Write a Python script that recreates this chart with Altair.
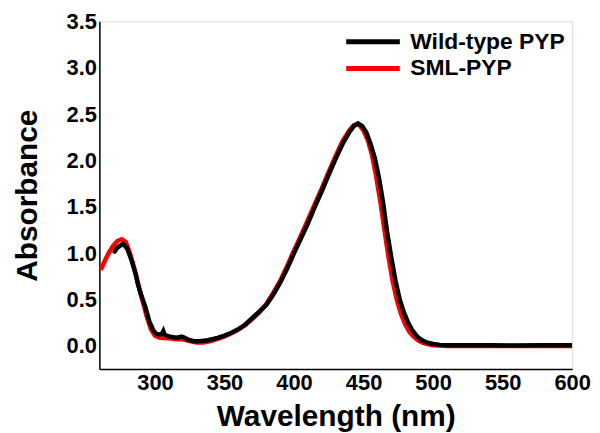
import altair as alt
import pandas as pd

# Wild-type PYP (black)
wt_wl = [270, 271, 273, 275, 277, 280, 283, 286, 288, 290, 293, 296, 299, 301, 303, 305,
         306, 307, 310, 314, 317, 319, 321, 324, 328, 332, 338, 345, 350, 355, 360, 365,
         370, 375, 380, 385, 390, 395, 400, 405, 410, 415, 420, 425, 430, 435, 440, 443,
         446, 449, 452, 455, 458, 461, 464, 467, 470, 473, 476, 479, 482, 485, 488, 491,
         494, 497, 500, 505, 510, 520, 540, 560, 580, 600]
wt_abs = [1.03, 1.02, 1.06, 1.08, 1.10, 1.05, 0.93, 0.78, 0.65, 0.55, 0.42, 0.26, 0.16, 0.13, 0.12, 0.13,
          0.16, 0.12, 0.10, 0.09, 0.09, 0.10, 0.09, 0.065, 0.05, 0.05, 0.06, 0.085, 0.11, 0.14, 0.18, 0.23,
          0.30, 0.37, 0.44, 0.55, 0.68, 0.83, 1.00, 1.16, 1.32, 1.50, 1.67, 1.85, 2.02, 2.18, 2.31, 2.37,
          2.40, 2.37, 2.30, 2.18, 2.03, 1.82, 1.55, 1.22, 0.95, 0.70, 0.50, 0.36, 0.25, 0.17, 0.11, 0.07,
          0.045, 0.03, 0.02, 0.01, 0.006, 0.005, 0.006, 0.004, 0.005, 0.005]

# SML-PYP (red)
sml_wl = [261, 264, 267, 270, 273, 276, 279, 282, 285, 288, 291, 294, 297, 300, 303, 306,
          310, 315, 320, 325, 330, 335, 340, 345, 350, 355, 360, 365, 370, 375, 380, 385,
          390, 395, 400, 405, 410, 415, 420, 425, 430, 435, 440, 443, 445, 447, 450, 453,
          456, 459, 462, 465, 468, 471, 474, 477, 480, 483, 486, 489, 492, 495, 500, 510,
          530, 560, 600]
sml_abs = [0.82, 0.92, 1.01, 1.08, 1.13, 1.15, 1.12, 1.00, 0.84, 0.66, 0.49, 0.32, 0.18, 0.11, 0.09, 0.085,
           0.08, 0.07, 0.07, 0.05, 0.035, 0.035, 0.05, 0.075, 0.10, 0.135, 0.175, 0.225, 0.29, 0.36, 0.45, 0.57,
           0.70, 0.86, 1.03, 1.19, 1.36, 1.53, 1.70, 1.88, 2.05, 2.21, 2.33, 2.38, 2.39, 2.38, 2.32, 2.22,
           2.06, 1.83, 1.56, 1.25, 0.95, 0.69, 0.49, 0.34, 0.23, 0.15, 0.10, 0.06, 0.035, 0.02, 0.005, -0.003,
           -0.003, -0.003, -0.003]

series_names = ["Wild-type PYP", "SML-PYP"]
series_colors = ["#000000", "#ff0000"]

x_ticks = [300, 350, 400, 450, 500, 550, 600]
y_ticks = [0.0, 0.5, 1.0, 1.5, 2.0, 2.5, 3.0, 3.5]

df_wt = pd.DataFrame({"wl": wt_wl, "abs": wt_abs, "series": series_names[0]})
df_sml = pd.DataFrame({"wl": sml_wl, "abs": sml_abs, "series": series_names[1]})

FONT = "Liberation Sans"

x_enc = alt.X("wl:Q", scale=alt.Scale(domain=[260, 600], nice=False, zero=False),
              axis=alt.Axis(values=x_ticks, title="Wavelength (nm)", labelFontSize=22,
                            labelFont=FONT, labelFontWeight="bold", labelColor="black",
                            titleFont=FONT, titleFontSize=30, titleFontWeight="bold",
                            titleColor="black", labelPadding=4, titlePadding=8,
                            labelFlush=False, labelOverlap=False,
                            ticks=False, domainColor="black", domainWidth=1.5,
                            grid=False))
y_enc = alt.Y("abs:Q", scale=alt.Scale(domain=[-0.25, 3.5], nice=False, zero=False),
              axis=alt.Axis(values=y_ticks, format=".1f", title="Absorbance", labelFontSize=22,
                            labelFont=FONT, labelFontWeight="bold", labelColor="black",
                            titleFont=FONT, titleFontSize=30, titleFontWeight="bold",
                            titleColor="black", labelPadding=3, titlePadding=24,
                            labelFlush=False, labelOverlap=False,
                            ticks=False, domainColor="black", domainWidth=1.5,
                            grid=False))
color_enc = alt.Color("series:N",
                      scale=alt.Scale(domain=series_names, range=series_colors),
                      legend=alt.Legend(title=None, orient="none", legendX=264, legendY=9,
                                        symbolType="M-3,0H3", symbolSize=324,
                                        symbolStrokeWidth=5, labelFont=FONT,
                                        labelFontSize=23, labelFontWeight="bold",
                                        labelColor="black", padding=0, labelOffset=26,
                                        rowPadding=3))

red = alt.Chart(df_sml).mark_line(strokeWidth=4.5, clip=True).encode(
    x=x_enc, y=y_enc, color=color_enc, order="wl:Q")
black = alt.Chart(df_wt).mark_line(strokeWidth=4.5, clip=True).encode(
    x=x_enc, y=y_enc, color=color_enc, order="wl:Q")

chart = alt.layer(red, black).properties(
    width=476, height=350,
    autosize=alt.AutoSizeParams(type="none"),
    padding={"left": 92, "top": 12, "right": 20, "bottom": 63},
).configure_view(stroke="black", strokeWidth=1.5).configure(background="white")

chart.save("out.html", embed_options={"renderer": "svg", "actions": False})
